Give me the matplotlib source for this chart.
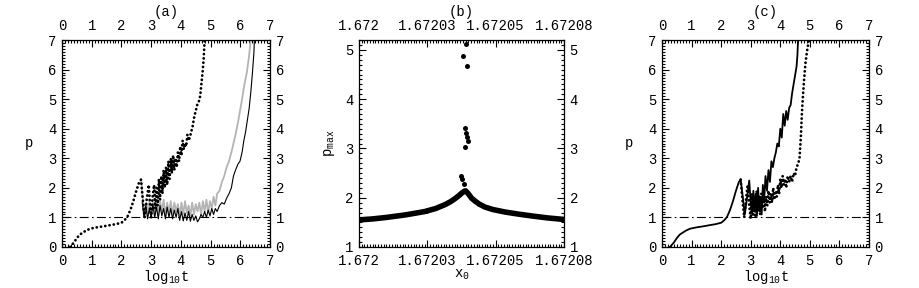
import matplotlib
matplotlib.use("Agg")
import matplotlib.pyplot as plt
from matplotlib.ticker import MultipleLocator, FixedLocator, FixedFormatter

plt.rcParams['font.family'] = ['Liberation Mono', 'DejaVu Sans']
plt.rcParams['mathtext.fontset'] = 'custom'
plt.rcParams['mathtext.rm'] = 'Liberation Mono'
plt.rcParams['mathtext.it'] = 'Liberation Mono'
plt.rcParams['font.size'] = 10

# ---------------- data: panel (a) ----------------
a_dot_t = [0.27, 0.4, 0.5, 0.6, 0.8, 0.95, 1.2, 1.4, 1.62, 1.8, 2.0, 2.1, 2.2, 2.3, 2.4, 2.5, 2.6, 2.66,
           2.72, 2.78, 2.85, 2.92, 2.97, 3.0, 3.05, 3.1, 3.14, 3.18, 3.22, 3.26, 3.3, 3.34, 3.38, 3.42,
           3.46, 3.5, 3.54, 3.58, 3.62, 3.66, 3.7, 3.74, 3.78, 3.82, 3.86, 3.9, 3.94, 3.98, 4.02, 4.06,
           4.1, 4.14, 4.18, 4.22, 4.26, 4.3, 4.35, 4.4, 4.45, 4.5, 4.55, 4.6, 4.65, 4.7, 4.74, 4.77, 4.8, 4.83]
a_dot_p = [0.0, 0.15, 0.3, 0.42, 0.55, 0.62, 0.67, 0.7, 0.74, 0.77, 0.82, 0.9, 1.02, 1.25, 1.55, 1.9, 2.2, 2.28,
           1.6, 1.0, 1.6, 2.1, 1.3, 1.0, 1.7, 2.1, 1.3, 2.0, 1.4, 2.3, 1.6, 2.4, 1.8, 2.6,
           2.0, 2.7, 2.1, 2.9, 2.3, 3.0, 2.5, 3.1, 2.6, 3.0, 2.7, 3.2, 2.9, 3.4, 3.1, 3.6,
           3.3, 3.5, 3.4, 3.8, 3.6, 3.7, 3.9, 4.1, 4.4, 4.6, 4.8, 4.9, 5.1, 5.6, 6.0, 6.4, 7.0, 7.3]

a_gray_t = [2.66, 2.72, 2.78, 2.84, 2.9, 2.95, 3.0, 3.06, 3.12, 3.18, 3.24, 3.3, 3.36, 3.42, 3.48, 3.54,
            3.6, 3.66, 3.72, 3.78, 3.84, 3.9, 3.96, 4.02, 4.08, 4.14, 4.2, 4.26, 4.32, 4.38, 4.44, 4.5,
            4.56, 4.62, 4.68, 4.74, 4.8, 4.86, 4.92, 4.98, 5.04, 5.1, 5.16, 5.22, 5.3, 5.38, 5.46, 5.54,
            5.62, 5.7, 5.77, 5.84, 5.92, 5.99, 6.06, 6.14, 6.22, 6.3, 6.35, 6.38]
a_gray_p = [2.28, 1.6, 1.0, 1.5, 1.1, 1.6, 1.0, 1.5, 1.05, 1.6, 1.1, 1.55, 1.2, 1.6, 1.05, 1.5,
            1.15, 1.55, 1.1, 1.5, 1.2, 1.45, 1.05, 1.5, 1.1, 1.55, 1.15, 1.4, 1.05, 1.5, 1.1, 1.45,
            1.2, 1.5, 1.1, 1.55, 1.2, 1.6, 1.15, 1.55, 1.3, 1.7, 1.4, 1.8, 1.9, 2.2, 2.4, 2.7,
            2.9, 3.2, 3.5, 3.8, 4.2, 4.6, 5.0, 5.5, 5.9, 6.5, 7.0, 7.3]

a_solid_t = [2.7, 2.76, 2.82, 2.88, 2.94, 3.0, 3.06, 3.12, 3.18, 3.24, 3.3, 3.36, 3.42, 3.48, 3.54, 3.6,
             3.66, 3.72, 3.78, 3.84, 3.9, 3.96, 4.02, 4.08, 4.14, 4.2, 4.26, 4.32, 4.38, 4.44, 4.5, 4.56,
             4.62, 4.68, 4.74, 4.8, 4.86, 4.92, 4.98, 5.04, 5.1, 5.16, 5.22, 5.3, 5.38, 5.46, 5.54, 5.62,
             5.7, 5.77, 5.84, 5.92, 5.99, 6.06, 6.12, 6.18, 6.24, 6.3, 6.36, 6.41, 6.46, 6.48]
a_solid_p = [1.5, 1.0, 1.4, 0.95, 1.3, 1.0, 1.45, 1.0, 1.35, 0.95, 1.4, 1.05, 1.3, 0.95, 1.35, 1.0,
             1.3, 0.95, 1.25, 1.0, 1.3, 0.9, 1.2, 0.88, 1.15, 0.9, 1.2, 0.87, 1.1, 0.9, 1.05, 0.85,
             0.95, 1.1, 1.0, 1.2, 1.0, 1.25, 1.05, 1.3, 1.1, 1.3, 1.2, 1.4, 1.5, 1.45, 1.65, 1.8,
             2.0, 2.4, 2.6, 2.8, 2.9, 3.2, 3.6, 3.9, 4.3, 4.7, 5.3, 5.9, 6.6, 7.2]

# ---------------- data: panel (b) ----------------
b_curve_x = [1.672, 1.6720050, 1.6720100, 1.6720168, 1.6720200, 1.6720241, 1.6720280, 1.6720315,
             1.6720335, 1.6720351, 1.6720365, 1.6720375, 1.6720385, 1.6720390, 1.6720400, 1.6720412,
             1.6720425, 1.6720440, 1.6720461, 1.6720490, 1.6720534, 1.6720580, 1.6720632, 1.6720690,
             1.6720748]
b_curve_p = [1.55, 1.57, 1.60, 1.65, 1.68, 1.72, 1.78, 1.86,
             1.92, 1.98, 2.04, 2.09, 2.13, 2.14, 2.08, 1.99,
             1.93, 1.87, 1.81, 1.76, 1.71, 1.67, 1.63, 1.59,
             1.56]
b_out_x = [1.6720391, 1.6720382, 1.6720395, 1.6720387, 1.6720390, 1.6720394, 1.6720398, 1.6720387,
           1.6720372, 1.6720377, 1.6720384, 1.6720245]
b_out_p = [5.11, 4.88, 4.68, 3.42, 3.31, 3.23, 3.15, 3.03,
           2.45, 2.37, 2.27, 1.74]
b_xticks = [1.672, 1.672025, 1.67205, 1.672075]
b_xticklabels = ['1.672', '1.67203', '1.67205', '1.67208']

# ---------------- data: panel (c) ----------------
c_solid_t = [0.27, 0.4, 0.5, 0.6, 0.8, 0.95, 1.2, 1.4, 1.62, 1.8, 2.0, 2.1, 2.2, 2.3, 2.4, 2.5, 2.6, 2.66,
             2.73, 2.8, 2.88, 2.95, 3.0, 3.05, 3.09, 3.13, 3.17, 3.21, 3.25, 3.29, 3.33, 3.37, 3.41, 3.45,
             3.5, 3.55, 3.6, 3.65, 3.7, 3.75, 3.8, 3.85, 3.9, 3.95, 4.0, 4.05, 4.1, 4.15, 4.2, 4.25,
             4.3, 4.35, 4.4, 4.45, 4.5, 4.55, 4.58, 4.6, 4.62]
c_solid_p = [0.0, 0.15, 0.3, 0.42, 0.55, 0.62, 0.67, 0.7, 0.74, 0.77, 0.82, 0.9, 1.02, 1.25, 1.55, 1.9, 2.2, 2.28,
             1.7, 1.1, 1.7, 2.25, 1.5, 1.1, 1.9, 1.2, 1.8, 1.05, 2.0, 1.2, 1.7, 1.1, 2.1, 1.5,
             2.4, 1.9, 2.6, 2.2, 2.9, 2.7, 3.0, 3.2, 3.5, 3.4, 4.0, 3.7, 4.5, 4.1, 4.6, 4.3,
             4.7, 4.8, 5.2, 5.5, 5.8, 6.1, 6.5, 7.0, 7.3]

c_dot_t = [2.66, 2.72, 2.78, 2.85, 2.9, 2.95, 3.0, 3.04, 3.08, 3.12, 3.16, 3.2, 3.24, 3.28, 3.32, 3.36,
           3.4, 3.44, 3.48, 3.52, 3.56, 3.6, 3.64, 3.68, 3.72, 3.76, 3.8, 3.84, 3.88, 3.92, 3.96, 4.0,
           4.04, 4.08, 4.12, 4.16, 4.2, 4.25, 4.3, 4.35, 4.4, 4.45, 4.5, 4.55, 4.6, 4.65, 4.7, 4.73,
           4.76, 4.8, 4.85, 4.9, 4.95, 5.0]
c_dot_p = [2.28, 1.6, 1.0, 1.7, 2.1, 1.4, 0.95, 1.8, 1.1, 1.6, 1.0, 1.9, 1.2, 1.7, 1.1, 1.8,
           1.3, 1.9, 1.2, 1.7, 1.4, 1.9, 1.5, 1.8, 1.5, 2.0, 1.6, 1.9, 1.7, 2.1, 1.8, 2.3,
           2.0, 2.4, 2.1, 2.3, 2.0, 2.4, 2.2, 2.4, 2.2, 2.5, 2.4, 2.7, 2.8, 3.0, 3.8, 4.5,
           5.0, 5.6, 6.2, 6.6, 6.9, 7.1]

ref_level = 1.0

W, H = 919, 288
fig = plt.figure(figsize=(W / 100, H / 100), dpi=100)


def make_ax(left_px, right_px):
    top_px, bot_px = 40, 247
    ax = fig.add_axes([left_px / W, 1 - bot_px / H, (right_px - left_px) / W, (bot_px - top_px) / H])
    ax.tick_params(which='both', direction='in', top=True, right=True,
                   labeltop=True, labelright=True, width=0.8)
    ax.tick_params(axis='x', which='both', pad=5)
    ax.tick_params(axis='y', which='both', pad=4)
    ax.tick_params(which='major', length=5)
    ax.tick_params(which='minor', length=2.5)
    for s in ax.spines.values():
        s.set_linewidth(0.9)
    return ax


def time_panel(ax):
    ax.set_xlim(0, 7)
    ax.set_ylim(0, 7)
    ax.xaxis.set_major_locator(MultipleLocator(1))
    ax.xaxis.set_minor_locator(MultipleLocator(0.1))
    ax.yaxis.set_major_locator(MultipleLocator(1))
    ax.yaxis.set_minor_locator(MultipleLocator(0.1))
    ax.axhline(ref_level, color='black', lw=0.8, ls=(0, (8, 3, 1.5, 3)))
    ax.set_xlabel(r'$\mathregular{log_{10}t}$', labelpad=0)
    ax.set_ylabel('p', rotation=0, labelpad=14, va='center')


dotstyle = (0, (0.05, 1.5))


def dotted(ax, t, p):
    ax.plot(t, p, color='black', lw=2.0, ls=dotstyle, dash_capstyle='round')


# panel (a)
axa = make_ax(62, 270)
time_panel(axa)
axa.plot(a_gray_t, a_gray_p, color='#b4b4b4', lw=1.3)
axa.plot(a_solid_t, a_solid_p, color='black', lw=0.8)
dotted(axa, a_dot_t, a_dot_p)

# panel (b)
axb = make_ax(359, 564)
axb.set_xlim(1.672, 1.672075)
axb.set_ylim(1, 5.2)
axb.xaxis.set_major_locator(FixedLocator(b_xticks))
axb.xaxis.set_major_formatter(FixedFormatter(b_xticklabels))
axb.xaxis.set_minor_locator(MultipleLocator(0.000001))
axb.yaxis.set_major_locator(MultipleLocator(1))
axb.yaxis.set_minor_locator(MultipleLocator(0.1))
axb.plot(b_curve_x, b_curve_p, color='black', lw=4.0, solid_capstyle='round', solid_joinstyle='round')
axb.plot(b_out_x, b_out_p, 'o', color='black', ms=3.6, mew=0)
axb.set_xlabel(r'$\mathregular{x_0}$', labelpad=0)
axb.set_ylabel(r'$\mathregular{p_{max}}$', labelpad=6)

# panel (c)
axc = make_ax(662, 869)
time_panel(axc)
dotted(axc, c_dot_t, c_dot_p)
axc.plot(c_solid_t, c_solid_p, color='black', lw=1.3)

for ax, lab in [(axa, '(a)'), (axb, '(b)'), (axc, '(c)')]:
    pos = ax.get_position()
    fig.text(pos.x0 + pos.width / 2, 1 - 12 / H, lab, ha='center', va='center')

fig.savefig('out.png', dpi=100)
